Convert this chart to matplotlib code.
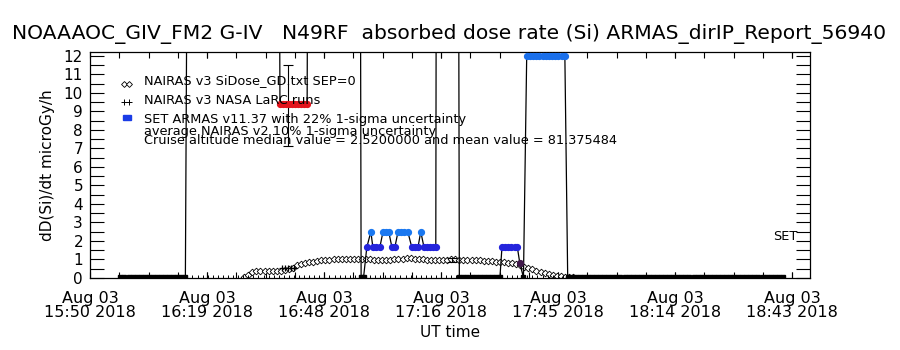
import numpy as np
import matplotlib.pyplot as plt
from matplotlib.lines import Line2D

plt.rcParams['font.family'] = ['DejaVu Sans']

# time axis: minutes after Aug 03 2018 15:50 UT
tick_min = [0, 28.83, 57.67, 86.5, 115.33, 144.17, 173.0]
tick_lab = ['Aug 03\n15:50 2018', 'Aug 03\n16:19 2018', 'Aug 03\n16:48 2018',
            'Aug 03\n17:16 2018', 'Aug 03\n17:45 2018', 'Aug 03\n18:14 2018',
            'Aug 03\n18:43 2018']

# NAIRAS v3 SiDose_GD.txt (1 min cadence starting 16:28)
gd_time = np.arange(38, 120)
gd_value = [0.03, 0.15, 0.33,
            0.40, 0.40, 0.40, 0.40, 0.40, 0.40, 0.40,
            0.45, 0.48, 0.55, 0.68, 0.76, 0.80, 0.85, 0.88, 0.92, 0.95,
            0.97, 0.99, 1.00, 1.00, 1.01, 1.02, 1.02, 1.03, 1.02, 1.01,
            1.00, 1.00, 0.99, 0.98, 0.97, 0.98, 0.99, 1.00, 1.02, 1.04,
            1.06, 1.07, 1.05, 1.03, 1.00, 0.99, 0.98, 0.97, 0.97, 0.98,
            0.99, 1.00, 1.00, 0.99, 0.98, 0.97, 0.97, 0.97, 0.96, 0.94,
            0.92, 0.90, 0.88, 0.86, 0.84, 0.82, 0.80, 0.75, 0.69, 0.62,
            0.56, 0.48, 0.40, 0.33, 0.27, 0.21, 0.16, 0.12, 0.09, 0.07,
            0.05, 0.04]

# NAIRAS v3 NASA LaRC runs
larc_time = np.arange(24, 171, 1.25)
larc_value = [0.0] * len(larc_time)
larc_hi_time = [47.4, 48.1, 48.8, 49.5, 50.2]
larc_hi_value = [0.52, 0.52, 0.52, 0.52, 0.52]
larc_err_time = [89.2]
larc_err_value = [0.97]
larc_err = [0.12]

# SET ARMAS v11.37 (values above 12 are off scale), segment by segment
zero1_t = list(np.arange(7.5, 24.5, 1.0))
zero2_t = list(np.arange(91.0, 101.5, 1.0))
zero3_t = list(np.arange(117.7, 171.0, 1.0))
armas_time = zero1_t + [24.2, 46.5] + \
    [46.8, 47.5, 48.3, 49.0, 49.8, 50.5, 51.3, 52.0, 52.8, 53.5] + \
    [53.8, 66.5, 66.8, 67.4] + \
    [68.2, 69.2, 69.7, 70.4, 71.4, 72.2, 72.9, 73.6, 74.4, 75.1, 75.9, 76.6,
     77.3, 78.3, 79.3, 80.0, 80.8, 81.5, 82.3, 83.0, 83.7, 84.5, 85.2] + \
    [85.4, 90.7] + zero2_t + \
    [101.5, 102.3, 103.0, 103.8, 104.6, 105.3, 105.9, 106.8] + \
    [107.6, 108.4, 109.2, 109.9, 110.7, 111.5, 112.3, 113.1, 113.8, 114.6,
     115.4, 116.2, 117.0] + zero3_t
armas_value = [0.03] * len(zero1_t) + [30, 30] + \
    [9.4] * 10 + \
    [30, 30, 0.03, 0.03] + \
    [1.65, 2.5, 1.65, 1.65, 1.65, 2.5, 2.5, 2.5, 1.65, 1.65, 2.5, 2.5,
     2.5, 2.5, 1.65, 1.65, 1.65, 2.5, 1.65, 1.65, 1.65, 1.65, 1.65] + \
    [30, 30] + [0.03] * len(zero2_t) + \
    [1.65, 1.65, 1.65, 1.65, 1.65, 1.65, 0.8, 0.03] + \
    [12.0] * 13 + [0.03] * len(zero3_t)
# one 22% uncertainty bar shown on the ARMAS points
armas_err_time = [48.8]
armas_err_value = [9.3]
armas_err = [2.2]


def armas_color(v):
    if v >= 11:
        return '#1a6fea'
    if v >= 9:
        return '#e3141c'
    if v >= 2:
        return '#1a78f0'
    if v >= 1.2:
        return '#2424dc'
    if v >= 0.5:
        return '#40184a'
    return 'black'


fig = plt.figure(figsize=(9, 3.5), dpi=100)
ax = fig.add_axes([0.1, 0.2057, 0.8, 0.6457])

# ARMAS connecting line and coloured points
ax.plot(armas_time, armas_value, color='black', lw=0.9, zorder=3)
for t, v in zip(armas_time, armas_value):
    if v > 12.2:
        continue
    c = armas_color(v)
    if c == 'black':
        ax.plot(t, v, 's', ms=2.2, color='black', zorder=4)
    else:
        ax.plot(t, v, 'o', ms=4.2, color=c, mec=c, zorder=4)
ax.errorbar(armas_err_time, armas_err_value, yerr=armas_err, fmt='none',
            ecolor='black', elinewidth=0.8, capsize=3.8, capthick=0.8, zorder=3)

# NAIRAS GD diamonds
ax.plot(gd_time, gd_value, color='black', lw=0.4, marker='D', ms=3.4,
        mfc='white', mec='black', mew=0.6, zorder=2)

# LaRC runs
ax.plot(larc_time, larc_value, '+', color='black', ms=4, mew=0.7, zorder=2)
ax.plot(larc_hi_time, larc_hi_value, '+', color='black', ms=4, mew=0.9, zorder=2)
ax.errorbar(larc_err_time, larc_err_value, yerr=larc_err, fmt='none',
            ecolor='black', elinewidth=0.8, capsize=3.5, capthick=0.8, zorder=2)

ax.set_xlim(0, 177.4)
ax.set_ylim(0, 12.2)
ax.set_xticks(tick_min)
ax.set_xticklabels(tick_lab, fontsize=11.5, linespacing=0.92)
ax.set_xticks(np.arange(0, 177.4, 7.208), minor=True)
ax.set_yticks(range(0, 13))
ax.set_yticks(np.arange(0, 12.2, 0.5), minor=True)
ax.tick_params(axis='y', which='both', direction='in', length=10, width=0.8,
               left=True, right=True, labelsize=11, pad=5)
ax.tick_params(axis='x', which='both', direction='in', length=4, width=0.8,
               top=True, bottom=True, pad=9)
for s in ax.spines.values():
    s.set_linewidth(0.9)

ax.set_xlabel('UT time', fontsize=11, labelpad=4)
ax.set_ylabel('dD(Si)/dt microGy/h', fontsize=11, labelpad=6)
fig.text(0.499, 0.902,
         'NOAAAOC_GIV_FM2 G-IV   N49RF  absorbed dose rate (Si) ARMAS_dirIP_Report_56940',
         ha='center', va='center', fontsize=14.6)


# legend, IDL style
def fx(px):
    return px / 900.0


def fy(py):
    return 1 - py / 350.0


fig.add_artist(Line2D([fx(124), fx(129)], [fy(83.5), fy(83.5)], ls='none',
                      marker='D', ms=3, mfc='white', mec='black', mew=0.6))
fig.add_artist(Line2D([fx(123.5), fx(128.5)], [fy(101.5), fy(101.5)], ls='none',
                      marker='+', ms=4, color='black', mew=0.7))
fig.add_artist(plt.Rectangle((fx(123), fy(119.5)), 8 / 900, 4 / 350,
                             color='#1a3ce6', transform=fig.transFigure))
legend_txt = [('NAIRAS v3 SiDose_GD.txt SEP=0', 81),
              ('NAIRAS v3 NASA LaRC runs', 100),
              ('SET ARMAS v11.37 with 22% 1-sigma uncertainty', 119),
              ('average NAIRAS v2 10% 1-sigma uncertainty', 131),
              ('Cruise altitude median value = 2.5200000 and mean value = 81.375484', 140)]
for txt, py in legend_txt:
    fig.text(fx(144), fy(py), txt, ha='left', va='center', fontsize=9.3)
fig.text(fx(797), fy(237), 'SET', ha='right', va='center', fontsize=9.3)

fig.savefig('out.png', dpi=100)
